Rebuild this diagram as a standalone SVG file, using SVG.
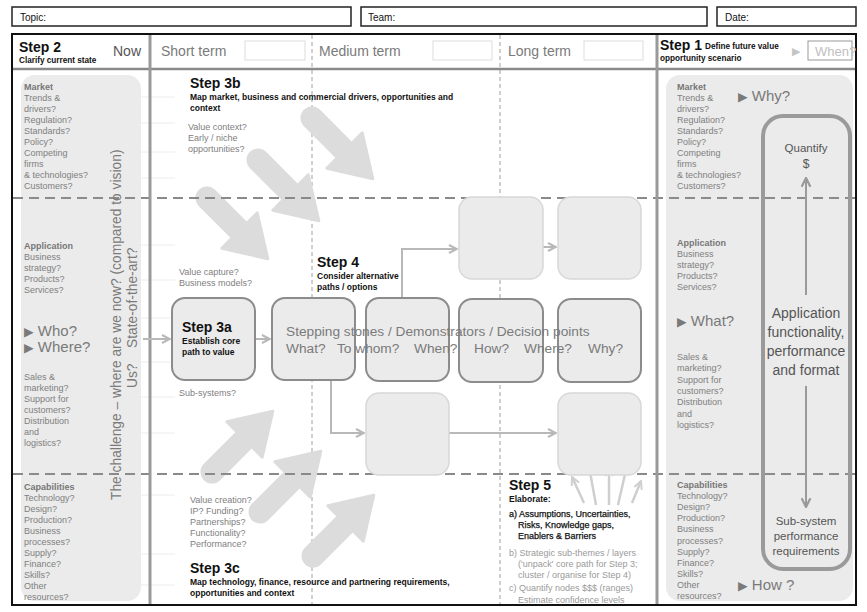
<svg xmlns="http://www.w3.org/2000/svg" width="867" height="612" viewBox="0 0 867 612">
<defs>
<style>
text{font-family:"Liberation Sans",Arial,"DejaVu Sans",sans-serif}
.lbl{font-size:9px;fill:#808080}
.hd{font-size:9px;font-weight:bold;fill:#777}
.step{font-size:14px;font-weight:bold;fill:#111}
.sub{font-size:8.5px;font-weight:bold;fill:#111}
.big{font-size:14px;fill:#7a7a7a}
.arr{font-size:15px;fill:#7a7a7a}
.hdr{font-size:14px;fill:#7a7a7a}
.field{font-size:10px;fill:#111}
.box{fill:#ebebeb;stroke:#8c8c8c;stroke-width:2}
.ghost{fill:#ebebeb;stroke:#d8d8d8;stroke-width:1.5}
.panel{fill:#ebebeb}
.bigarrow{fill:#dcdcdc;stroke:#dcdcdc;stroke-width:3;stroke-linejoin:round}
.con{fill:none;stroke:#b8b8b8;stroke-width:2}
.fan{fill:none;stroke:#cfcfcf;stroke-width:2.5}
.dash{stroke:#8a8a8a;stroke-width:2;stroke-dasharray:10 6}
.vdash{stroke:#a0a0a0;stroke-width:1;stroke-dasharray:4 3}
.rule{stroke:#ececec;stroke-width:1}
.q{fill:#555;text-anchor:middle}
</style>
<marker id="chev" viewBox="0 0 10 10" refX="9" refY="5" markerWidth="10" markerHeight="10" markerUnits="userSpaceOnUse" orient="auto">
<path d="M1,1 L9,5 L1,9" fill="none" stroke="#b8b8b8" stroke-width="2"/>
</marker>
<marker id="chevf" viewBox="0 0 10 10" refX="9" refY="5" markerWidth="10" markerHeight="10" markerUnits="userSpaceOnUse" orient="auto">
<path d="M1,1 L9,5 L1,9" fill="none" stroke="#cfcfcf" stroke-width="2"/>
</marker>
<marker id="chevd" viewBox="0 0 10 10" refX="9" refY="5" markerWidth="11" markerHeight="11" markerUnits="userSpaceOnUse" orient="auto">
<path d="M1,1 L9,5 L1,9" fill="none" stroke="#9a9a9a" stroke-width="2"/>
</marker>
<path id="blk" d="M0,-10 H46 V-25 L86,0 L46,25 V10 H0 A10,10 0 0 1 0,-10 Z"/>
</defs>

<rect width="867" height="612" fill="#fff"/>

<!-- header fields -->
<g id="fields">
<rect x="12" y="7" width="339" height="19" fill="#fff" stroke="#222" stroke-width="1.5"/>
<text class="field" x="20" y="21">Topic:</text>
<rect x="361" y="7" width="346" height="19" fill="#fff" stroke="#222" stroke-width="1.5"/>
<text class="field" x="368" y="21">Team:</text>
<rect x="717" y="7" width="139" height="19" fill="#fff" stroke="#222" stroke-width="1.5"/>
<text class="field" x="725" y="21">Date:</text>
</g>

<!-- side panels -->
<rect class="panel" x="21" y="75" width="120" height="526" rx="14"/>
<rect class="panel" x="666" y="75" width="187" height="526" rx="14"/>

<!-- faint ruling -->
<g id="ruling">
<line class="rule" x1="141" y1="97" x2="175" y2="97"/>
<line class="rule" x1="141" y1="123" x2="175" y2="123"/>
<line class="rule" x1="141" y1="152" x2="175" y2="152"/>
<line class="rule" x1="141" y1="178" x2="175" y2="178"/>
<line class="rule" x1="141" y1="245" x2="175" y2="245"/>
<line class="rule" x1="141" y1="280" x2="175" y2="280"/>
<line class="rule" x1="141" y1="318" x2="170" y2="318"/>
<line class="rule" x1="141" y1="362" x2="170" y2="362"/>
<line class="rule" x1="141" y1="397" x2="175" y2="397"/>
<line class="rule" x1="141" y1="433" x2="175" y2="433"/>
<line class="rule" x1="141" y1="495" x2="175" y2="495"/>
<line class="rule" x1="141" y1="554" x2="175" y2="554"/>
<line class="rule" x1="141" y1="585" x2="175" y2="585"/>
</g>

<!-- time columns -->
<line class="vdash" x1="312" y1="35" x2="312" y2="604"/>
<line class="vdash" x1="500" y1="35" x2="500" y2="604"/>

<!-- big grey direction arrows -->
<g id="drivers" class="bigarrow">
<use href="#blk" transform="translate(312,118) rotate(45)"/>
<use href="#blk" transform="translate(258,160) rotate(45)"/>
<use href="#blk" transform="translate(207,198) rotate(45)"/>
<use href="#blk" transform="translate(212,472) rotate(-45)"/>
<use href="#blk" transform="translate(260,512) rotate(-45)"/>
<use href="#blk" transform="translate(313,556) rotate(-45)"/>
</g>

<!-- layer dividers -->
<line class="dash" x1="13" y1="198" x2="855" y2="198"/>
<line class="dash" x1="13" y1="474" x2="855" y2="474"/>

<!-- frame and header row -->
<rect x="12" y="34" width="844" height="571" fill="none" stroke="#111" stroke-width="2"/>
<line x1="13" y1="69" x2="855" y2="69" stroke="#8a8a8a" stroke-width="2.5"/>
<line x1="150" y1="35" x2="150" y2="604" stroke="#9a9a9a" stroke-width="3"/>
<line x1="657" y1="35" x2="657" y2="604" stroke="#9a9a9a" stroke-width="3"/>

<g id="header">
<text class="step" x="19" y="52">Step 2</text>
<text x="19" y="63" style="font-size:8.2px;font-weight:bold;fill:#111">Clarify current state</text>
<text class="hdr" x="113" y="56" style="fill:#555">Now</text>
<text class="hdr" x="161" y="56">Short term</text>
<rect x="245" y="41" width="60" height="19" fill="#fff" stroke="#ddd"/>
<text class="hdr" x="319" y="56">Medium term</text>
<rect x="433" y="41" width="59" height="19" fill="#fff" stroke="#ddd"/>
<text class="hdr" x="508" y="56">Long term</text>
<rect x="584" y="41" width="59" height="19" fill="#fff" stroke="#ddd"/>
<text class="step" x="660" y="50">Step 1</text>
<text x="705" y="49" style="font-size:8.2px;font-weight:bold;fill:#111">Define future value</text>
<text x="660" y="61" style="font-size:8.2px;font-weight:bold;fill:#111">opportunity scenario</text>
<text x="792" y="55" style="font-size:11px;fill:#c4c4c4">▶</text>
<rect x="808" y="41" width="44" height="19" fill="#fff" stroke="#999"/>
<text x="815" y="56" style="font-size:13px;fill:#c0c0c0">When?</text>
</g>

<!-- current state column -->
<g id="current-state">
<text x="24" y="90" class="lbl"><tspan class="hd">Market</tspan><tspan x="24" dy="11">Trends &amp;</tspan><tspan x="24" dy="11">drivers?</tspan><tspan x="24" dy="11">Regulation?</tspan><tspan x="24" dy="11">Standards?</tspan><tspan x="24" dy="11">Policy?</tspan><tspan x="24" dy="11">Competing</tspan><tspan x="24" dy="11">firms</tspan><tspan x="24" dy="11">&amp; technologies?</tspan><tspan x="24" dy="11">Customers?</tspan></text>
<text x="24" y="249" class="lbl"><tspan class="hd">Application</tspan><tspan x="24" dy="11">Business</tspan><tspan x="24" dy="11">strategy?</tspan><tspan x="24" dy="11">Products?</tspan><tspan x="24" dy="11">Services?</tspan></text>
<text x="24" y="336" class="arr"><tspan style="font-size:12.5px">▶</tspan> Who?</text>
<text x="24" y="352" class="arr"><tspan style="font-size:12.5px">▶</tspan> Where?</text>
<text x="24" y="380" class="lbl"><tspan>Sales &amp;</tspan><tspan x="24" dy="11">marketing?</tspan><tspan x="24" dy="11">Support for</tspan><tspan x="24" dy="11">customers?</tspan><tspan x="24" dy="11">Distribution</tspan><tspan x="24" dy="11">and</tspan><tspan x="24" dy="11">logistics?</tspan></text>
<text x="24" y="490" class="lbl"><tspan class="hd">Capabilities</tspan><tspan x="24" dy="11">Technology?</tspan><tspan x="24" dy="11">Design?</tspan><tspan x="24" dy="11">Production?</tspan><tspan x="24" dy="11">Business</tspan><tspan x="24" dy="11">processes?</tspan><tspan x="24" dy="11">Supply?</tspan><tspan x="24" dy="11">Finance?</tspan><tspan x="24" dy="11">Skills?</tspan><tspan x="24" dy="11">Other</tspan><tspan x="24" dy="11">resources?</tspan></text>
<text class="big" transform="translate(121,500) rotate(-90)" style="font-size:13.8px">The challenge – where are we now? (compared to vision)</text>
<text class="big" transform="translate(137,348) rotate(-90)" style="font-size:13.8px">State-of-the-art?</text>
<text class="big" transform="translate(137,388) rotate(-90)" style="font-size:13.8px">Us?</text>
</g>

<!-- step labels in the middle area -->
<g id="step3b">
<text class="step" x="190" y="88">Step 3b</text>
<text class="sub" x="190" y="100">Map market, business and commercial drivers, opportunities and<tspan x="190" dy="11">context</tspan></text>
<text class="lbl" x="188" y="130">Value context?<tspan x="188" dy="11">Early / niche</tspan><tspan x="188" dy="11">opportunities?</tspan></text>
</g>
<g id="notes-mid">
<text class="lbl" x="179" y="275">Value capture?<tspan x="179" dy="11">Business models?</tspan></text>
<text class="lbl" x="179" y="396">Sub-systems?</text>
</g>
<g id="step3c">
<text class="lbl" x="190" y="503">Value creation?<tspan x="190" dy="11">IP?  Funding?</tspan><tspan x="190" dy="11">Partnerships?</tspan><tspan x="190" dy="11">Functionality?</tspan><tspan x="190" dy="11">Performance?</tspan></text>
<text class="step" x="190" y="573">Step 3c</text>
<text class="sub" x="190" y="585">Map technology, finance, resource and partnering requirements,<tspan x="190" dy="11">opportunities and context</tspan></text>
</g>
<g id="step4">
<text class="step" x="317" y="267">Step 4</text>
<text class="sub" x="317" y="279">Consider alternative<tspan x="317" dy="11">paths / options</tspan></text>
</g>

<!-- connectors -->
<g id="connectors">
<path class="con" d="M143,339 H170" marker-end="url(#chev)"/>
<path class="con" d="M256,339 H270" marker-end="url(#chev)"/>
<path class="con" d="M402,298 V249 H457" marker-end="url(#chev)"/>
<path class="con" d="M543,247 H556" marker-end="url(#chev)"/>
<path class="con" d="M331,381 V433 H364" marker-end="url(#chev)"/>
<path class="con" d="M449,433 H556" marker-end="url(#chev)"/>
<path class="fan" d="M584,503 L572,477" marker-end="url(#chevf)"/>
<path class="fan" d="M596,505 L588,461" marker-end="url(#chevf)"/>
<path class="fan" d="M609,505 L609,468" marker-end="url(#chevf)"/>
<path class="fan" d="M618,505 L628,461" marker-end="url(#chevf)"/>
<path class="fan" d="M632,503 L641,481" marker-end="url(#chevf)"/>
</g>

<!-- path nodes -->
<g id="node-3a"><rect class="box" x="172" y="298" width="83" height="82" rx="13"/>
<text class="step" x="182" y="332">Step 3a</text>
<text class="sub" x="182" y="344">Establish core<tspan x="182" dy="11">path to value</tspan></text></g>
<g id="node-2"><rect class="box" x="272" y="298" width="83" height="82" rx="13"/></g>
<g id="node-3"><rect class="box" x="366" y="298" width="83" height="83" rx="13"/></g>
<g id="node-4"><rect class="box" x="459" y="299" width="84" height="83" rx="13"/></g>
<g id="node-5"><rect class="box" x="558" y="299" width="83" height="83" rx="13"/></g>
<g id="alt-upper-1"><rect class="ghost" x="459" y="197" width="84" height="82" rx="13"/></g>
<g id="alt-upper-2"><rect class="ghost" x="558" y="197" width="83" height="82" rx="13"/></g>
<g id="alt-lower-1"><rect class="ghost" x="366" y="393" width="83" height="82" rx="13"/></g>
<g id="alt-lower-2"><rect class="ghost" x="558" y="393" width="83" height="82" rx="13"/></g>

<g id="stepping-stones">
<text class="big" x="286" y="336" style="font-size:13.7px">Stepping stones / Demonstrators / Decision points</text>
<text class="big" y="353" style="font-size:13.7px"><tspan x="286">What?</tspan><tspan x="337">To whom?</tspan><tspan x="414">When?</tspan><tspan x="474">How?</tspan><tspan x="524">Where?</tspan><tspan x="588">Why?</tspan></text>
</g>

<g id="step5">
<text class="step" x="509" y="490">Step 5</text>
<text class="sub" x="509" y="502">Elaborate:</text>
<text x="509" y="517" style="font-size:9px;fill:#111;stroke:#111;stroke-width:0.25">a) Assumptions, Uncertainties,<tspan x="518" dy="11">Risks, Knowledge gaps,</tspan><tspan x="518" dy="11">Enablers &amp; Barriers</tspan></text>
<text x="509" y="556" style="font-size:9px;fill:#9a9a9a">b) Strategic sub-themes / layers<tspan x="518" dy="11">('unpack' core path for Step 3;</tspan><tspan x="518" dy="11">cluster / organise for Step 4)</tspan></text>
<text x="509" y="591" style="font-size:9px;fill:#9a9a9a">c) Quantify nodes $$$ (ranges)<tspan x="518" dy="12">Estimate confidence levels</tspan></text>
</g>

<!-- future state column -->
<g id="future-state">
<text x="677" y="90" class="lbl"><tspan class="hd">Market</tspan><tspan x="677" dy="11">Trends &amp;</tspan><tspan x="677" dy="11">drivers?</tspan><tspan x="677" dy="11">Regulation?</tspan><tspan x="677" dy="11">Standards?</tspan><tspan x="677" dy="11">Policy?</tspan><tspan x="677" dy="11">Competing</tspan><tspan x="677" dy="11">firms</tspan><tspan x="677" dy="11">&amp; technologies?</tspan><tspan x="677" dy="11">Customers?</tspan></text>
<text x="738" y="101" class="arr"><tspan style="font-size:12.5px">▶</tspan> Why?</text>
<text x="677" y="246" class="lbl"><tspan class="hd">Application</tspan><tspan x="677" dy="11">Business</tspan><tspan x="677" dy="11">strategy?</tspan><tspan x="677" dy="11">Products?</tspan><tspan x="677" dy="11">Services?</tspan></text>
<text x="677" y="326" class="arr"><tspan style="font-size:12.5px">▶</tspan> What?</text>
<text x="677" y="360" class="lbl"><tspan>Sales &amp;</tspan><tspan x="677" dy="11.3">marketing?</tspan><tspan x="677" dy="11.3">Support for</tspan><tspan x="677" dy="11.3">customers?</tspan><tspan x="677" dy="11.3">Distribution</tspan><tspan x="677" dy="11.3">and</tspan><tspan x="677" dy="11.3">logistics?</tspan></text>
<text x="677" y="488" class="lbl"><tspan class="hd">Capabilities</tspan><tspan x="677" dy="11.1">Technology?</tspan><tspan x="677" dy="11.1">Design?</tspan><tspan x="677" dy="11.1">Production?</tspan><tspan x="677" dy="11.1">Business</tspan><tspan x="677" dy="11.1">processes?</tspan><tspan x="677" dy="11.1">Supply?</tspan><tspan x="677" dy="11.1">Finance?</tspan><tspan x="677" dy="11.1">Skills?</tspan><tspan x="677" dy="11.1">Other</tspan><tspan x="677" dy="11.1">resources?</tspan></text>
<text x="738" y="590" class="arr"><tspan style="font-size:12.5px">▶</tspan> How ?</text>
</g>

<g id="quantify">
<rect x="763" y="116" width="87" height="453" rx="20" fill="none" stroke="#9a9a9a" stroke-width="4"/>
<text class="q" x="806" y="152" style="font-size:11.5px">Quantify</text>
<text class="q" x="806" y="168" style="font-size:12px">$</text>
<path d="M806,295 V178" fill="none" stroke="#9a9a9a" stroke-width="2" marker-end="url(#chevd)"/>
<text class="q" x="806" y="318" style="font-size:14px">Application</text>
<text class="q" x="806" y="337" style="font-size:14px">functionality,</text>
<text class="q" x="806" y="356" style="font-size:14px">performance</text>
<text class="q" x="806" y="375" style="font-size:14px">and format</text>
<path d="M806,386 V507" fill="none" stroke="#9a9a9a" stroke-width="2" marker-end="url(#chevd)"/>
<text class="q" x="806" y="525" style="font-size:11.5px">Sub-system</text>
<text class="q" x="806" y="540" style="font-size:11.5px">performance</text>
<text class="q" x="806" y="555" style="font-size:11.5px">requirements</text>
</g>
</svg>
